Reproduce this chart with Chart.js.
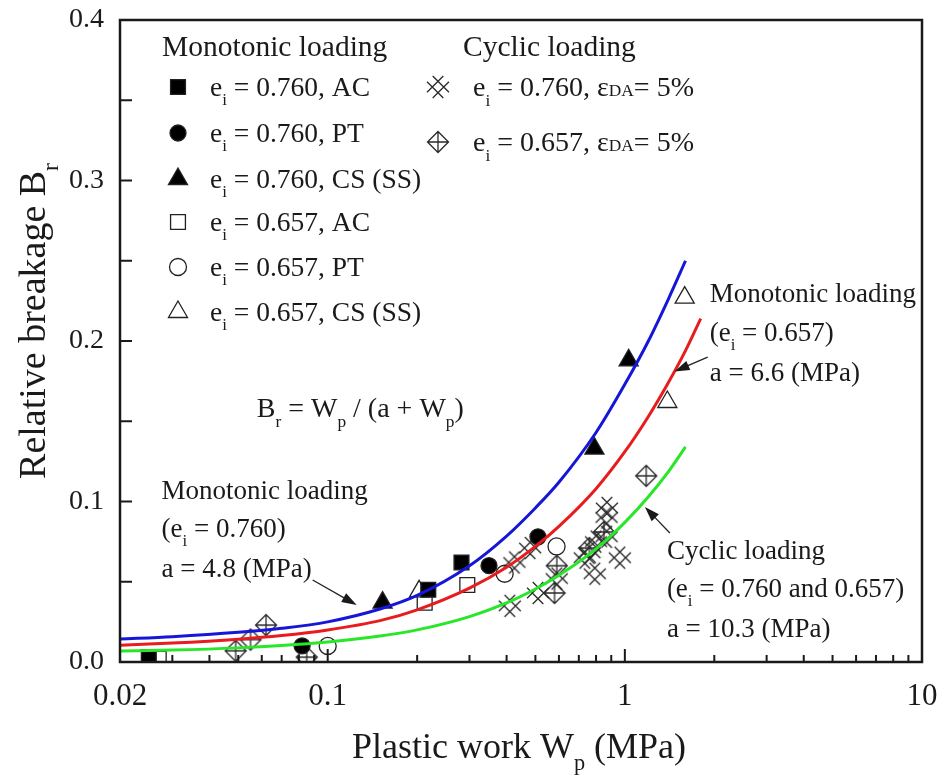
<!DOCTYPE html>
<html>
<head>
<meta charset="utf-8">
<title>Relative breakage vs plastic work</title>
<script src="https://cdn.jsdelivr.net/npm/chart.js@4.4.1/dist/chart.umd.min.js"></script>
<style>
  html, body { margin: 0; padding: 0; background: #fff; }
  canvas { display: block; }
</style>
</head>
<body>
<canvas id="breakageChart" width="943" height="777"></canvas>
<script>
// axis ticks
const X_MAJOR = [0.02, 0.1, 1, 10];
const X_MINOR = [0.03, 0.04, 0.05, 0.06, 0.07, 0.08, 0.09,
                 0.2, 0.3, 0.4, 0.5, 0.6, 0.7, 0.8, 0.9,
                 2, 3, 4, 5, 6, 7, 8, 9];
const Y_MAJOR = [0.1, 0.2, 0.3];
const Y_MINOR = [0.05, 0.15, 0.25, 0.35];

// monotonic loading, [Wp (MPa), Br]
const mono760AC = [[0.025, 0.003], [0.218, 0.045], [0.282, 0.062]];
const mono760PT = [[0.082, 0.010], [0.349, 0.060], [0.51, 0.078]];
const mono760CS = [[0.153, 0.037], [0.79, 0.133], [1.03, 0.188]];
const mono657AC = [[0.027, 0.002], [0.212, 0.037], [0.295, 0.048]];
const mono657PT = [[0.1, 0.010], [0.394, 0.055], [0.589, 0.072]];
const mono657CS = [[0.203, 0.044], [1.39, 0.162], [1.59, 0.227]];

// cyclic loading, eDA = 5%
const cyclic760 = [[0.41, 0.035], [0.425, 0.062], [0.48, 0.071], [0.51, 0.043],
                   [0.59, 0.052], [0.733, 0.065], [0.76, 0.068], [0.792, 0.055],
                   [0.80, 0.075], [0.868, 0.078], [0.868, 0.090], [0.87, 0.096],
                   [0.962, 0.065]];
const cyclic657 = [[0.049, 0.007], [0.055, 0.014], [0.062, 0.023], [0.085, 0.003],
                   [0.58, 0.043], [0.59, 0.060], [0.76, 0.071], [0.85, 0.081],
                   [1.18, 0.116]];

// fitted curves Br = Wp / (a + Wp)
const fitMono760 = [[0.02, 0.0143], [0.03, 0.0158], [0.05, 0.0185], [0.07, 0.0210],
                    [0.1, 0.0250], [0.15, 0.0330], [0.2, 0.0415], [0.3, 0.0600],
                    [0.4, 0.0785], [0.5, 0.0960], [0.6, 0.1120], [0.8, 0.1430],
                    [1.0, 0.1730], [1.2, 0.2000], [1.4, 0.2260], [1.6, 0.2500]];
const fitMono657 = [[0.02, 0.0105], [0.03, 0.0118], [0.05, 0.0142], [0.07, 0.0165],
                    [0.1, 0.0200], [0.15, 0.0258], [0.2, 0.0325], [0.3, 0.0460],
                    [0.4, 0.0590], [0.5, 0.0720], [0.6, 0.0845], [0.8, 0.1080],
                    [1.0, 0.1310], [1.2, 0.1530], [1.4, 0.1740], [1.6, 0.1940],
                    [1.8, 0.2140]];
const fitCyclic = [[0.02, 0.0068], [0.03, 0.0074], [0.05, 0.0088], [0.07, 0.0103],
                   [0.1, 0.0125], [0.15, 0.0162], [0.2, 0.0200], [0.3, 0.0283],
                   [0.4, 0.0368], [0.5, 0.0455], [0.6, 0.0540], [0.8, 0.0705],
                   [1.0, 0.0870], [1.2, 0.1030], [1.4, 0.1185], [1.6, 0.1340]];

const FONT = '"Liberation Serif", "Times New Roman", serif';
const INK = '#1a1a1a';

const toXY = arr => arr.map(p => ({ x: p[0], y: p[1] }));

// small canvases used as point styles for the cyclic markers
function markerCanvas(size, draw) {
  const c = document.createElement('canvas');
  c.width = c.height = size;
  const g = c.getContext('2d');
  g.strokeStyle = '#2a2a2a';
  g.lineWidth = 1.3;
  draw(g, size / 2);
  return c;
}

// rotated "#" lattice
const latticeMark = markerCanvas(26, (g, m) => {
  const L = 11.5, d = 4;
  const k = Math.SQRT1_2;
  g.beginPath();
  for (const s of [-d, d]) {
    g.moveTo(m - L * k + s * k, m - L * k - s * k);
    g.lineTo(m + L * k + s * k, m + L * k - s * k);
    g.moveTo(m - L * k + s * k, m + L * k + s * k);
    g.lineTo(m + L * k + s * k, m - L * k + s * k);
  }
  g.stroke();
});

// diamond with a plus inside
const diamondPlusMark = markerCanvas(24, (g, m) => {
  const r = 10.5;
  g.beginPath();
  g.moveTo(m, m - r); g.lineTo(m + r, m); g.lineTo(m, m + r); g.lineTo(m - r, m); g.closePath();
  g.moveTo(m, m - r); g.lineTo(m, m + r);
  g.moveTo(m - r, m); g.lineTo(m + r, m);
  g.stroke();
});

const series = [
  { data: mono760AC, pointStyle: 'rect', radius: 10.5, fill: true },
  { data: mono760PT, pointStyle: 'circle', radius: 8, fill: true },
  { data: mono760CS, pointStyle: 'triangle', radius: 11, fill: true },
  { data: mono657AC, pointStyle: 'rect', radius: 10.5, fill: false },
  { data: mono657PT, pointStyle: 'circle', radius: 8.5, fill: false },
  { data: mono657CS, pointStyle: 'triangle', radius: 11, fill: false },
  { data: cyclic760, pointStyle: latticeMark, radius: 11, fill: false },
  { data: cyclic657, pointStyle: diamondPlusMark, radius: 11, fill: false }
];

const curves = [
  { data: fitMono760, color: '#1616d8' },
  { data: fitMono657, color: '#e81c1c' },
  { data: fitCyclic, color: '#28e628' }
];

const datasets = [
  ...curves.map(c => ({
    type: 'line',
    data: toXY(c.data),
    borderColor: c.color,
    borderWidth: 3,
    pointRadius: 0,
    fill: false,
    cubicInterpolationMode: 'monotone',
    order: 0
  })),
  ...series.map(s => ({
    type: 'scatter',
    data: toXY(s.data),
    pointStyle: s.pointStyle,
    pointRadius: s.radius,
    borderColor: '#222',
    borderWidth: 1.3,
    backgroundColor: s.fill ? '#000' : 'rgba(0,0,0,0)',
    order: 1
  }))
];

// text with subscripts: parts are strings or [text, 'sub' | 'small']
function richText(ctx, parts, x, y, size, align) {
  const items = parts.map(p => {
    const txt = typeof p === 'string' ? p : p[0];
    const kind = typeof p === 'string' ? '' : p[1];
    const s = kind ? size * 0.62 : size;
    ctx.font = s + 'px ' + FONT;
    return { txt, kind, s, w: ctx.measureText(txt).width };
  });
  const total = items.reduce((a, it) => a + it.w, 0);
  let cx = align === 'center' ? x - total / 2 : x;
  ctx.textAlign = 'left';
  ctx.textBaseline = 'alphabetic';
  for (const it of items) {
    ctx.font = it.s + 'px ' + FONT;
    const dy = it.kind === 'sub' ? size * 0.34 : 0;
    ctx.fillText(it.txt, cx, y + dy);
    cx += it.w;
  }
}

function arrow(ctx, x1, y1, x2, y2) {
  const ang = Math.atan2(y2 - y1, x2 - x1);
  const head = 15, half = 5;
  ctx.beginPath();
  ctx.moveTo(x1, y1);
  ctx.lineTo(x2 - Math.cos(ang) * head * 0.8, y2 - Math.sin(ang) * head * 0.8);
  ctx.stroke();
  ctx.beginPath();
  ctx.moveTo(x2, y2);
  ctx.lineTo(x2 - Math.cos(ang) * head - Math.sin(ang) * half, y2 - Math.sin(ang) * head + Math.cos(ang) * half);
  ctx.lineTo(x2 - Math.cos(ang) * head + Math.sin(ang) * half, y2 - Math.sin(ang) * head - Math.cos(ang) * half);
  ctx.closePath();
  ctx.fill();
}

const ei = [['e', ''], ['i', 'sub']];

// legend rows
const monoLegend = [
  [series[0], ' = 0.760, AC'],
  [series[1], ' = 0.760, PT'],
  [series[2], ' = 0.760, CS (SS)'],
  [series[3], ' = 0.657, AC'],
  [series[4], ' = 0.657, PT'],
  [series[5], ' = 0.657, CS (SS)']
];
const cyclicLegend = [
  [series[6], ' = 0.760, '],
  [series[7], ' = 0.657, ']
];

// notes on the curves: text anchor and arrow in data units
const notes = [
  { x: 1.93, lines: [['Monotonic loading'], ['(e', ['i', 'sub'], ' = 0.657)'], ['a = 6.6 (MPa)']],
    ys: [0.230, 0.2056, 0.1807], arrow: [1.90, 0.190, 1.47, 0.181] },
  { x: 0.0276, lines: [['Monotonic loading'], ['(e', ['i', 'sub'], ' = 0.760)'], ['a = 4.8 (MPa)']],
    ys: [0.1072, 0.0835, 0.0586], arrow: [0.089, 0.0511, 0.1252, 0.0355] },
  { x: 1.385, lines: [['Cyclic loading'], ['(e', ['i', 'sub'], ' = 0.760 and 0.657)'], ['a = 10.3 (MPa)']],
    ys: [0.0698, 0.0461, 0.0212], arrow: [1.417, 0.0804, 1.168, 0.0966] }
];

const framePlugin = {
  id: 'frame',
  beforeDraw(chart) {
    const ctx = chart.ctx;
    ctx.save();
    ctx.fillStyle = '#fff';
    ctx.fillRect(0, 0, chart.width, chart.height);
    ctx.restore();
  },
  afterDraw(chart) {
    const ctx = chart.ctx;
    const { left, right, top, bottom } = chart.chartArea;
    const xs = chart.scales.x, ys = chart.scales.y;
    ctx.save();
    ctx.strokeStyle = INK;
    ctx.fillStyle = INK;

    // inward tick marks
    ctx.lineWidth = 2;
    ctx.beginPath();
    X_MAJOR.forEach(v => { const px = xs.getPixelForValue(v); ctx.moveTo(px, bottom); ctx.lineTo(px, bottom - 13); });
    X_MINOR.forEach(v => { const px = xs.getPixelForValue(v); ctx.moveTo(px, bottom); ctx.lineTo(px, bottom - 7); });
    Y_MAJOR.concat(Y_MINOR).forEach(v => { const py = ys.getPixelForValue(v); ctx.moveTo(left, py); ctx.lineTo(left + 12, py); });
    ctx.stroke();

    // plot frame
    ctx.lineWidth = 2.5;
    ctx.strokeRect(left, top, right - left, bottom - top);

    // legend: monotonic
    richText(ctx, ['Monotonic loading'], 162, 56, 29.5, 'left');
    const mRows = [87, 133, 179, 222, 267, 312];
    monoLegend.forEach((row, i) => {
      const s = row[0];
      ctx.fillStyle = s.fill ? '#000' : 'rgba(0,0,0,0)';
      ctx.strokeStyle = '#222';
      ctx.lineWidth = 1.3;
      Chart.helpers.drawPoint(ctx, { pointStyle: s.pointStyle, radius: s.radius, rotation: 0, borderWidth: 1.3 }, 178, mRows[i]);
      ctx.fillStyle = INK;
      richText(ctx, [...ei, row[1]], 210, mRows[i] + 9, 27.5, 'left');
    });

    // legend: cyclic
    richText(ctx, ['Cyclic loading'], 463, 56, 29.5, 'left');
    const cRows = [87, 142];
    cyclicLegend.forEach((row, i) => {
      const s = row[0];
      ctx.drawImage(s.pointStyle, 438 - s.pointStyle.width / 2, cRows[i] - s.pointStyle.height / 2);
      ctx.fillStyle = INK;
      richText(ctx, [...ei, row[1], '\u03b5', ['DA', 'small'], '= 5%'], 473, cRows[i] + 9, 28, 'left');
    });

    // model equation
    richText(ctx, ['B', ['r', 'sub'], ' = W', ['p', 'sub'], ' / (a + W', ['p', 'sub'], ')'],
      xs.getPixelForValue(0.0577), ys.getPixelForValue(0.158) + 9, 28, 'left');

    // curve notes with arrows
    ctx.lineWidth = 1.3;
    notes.forEach(n => {
      const px = xs.getPixelForValue(n.x);
      n.lines.forEach((ln, j) => richText(ctx, ln, px, ys.getPixelForValue(n.ys[j]) + 9, 27, 'left'));
      const a = n.arrow;
      arrow(ctx, xs.getPixelForValue(a[0]), ys.getPixelForValue(a[1]),
                 xs.getPixelForValue(a[2]), ys.getPixelForValue(a[3]));
    });

    // axis titles
    richText(ctx, ['Plastic work W', ['p', 'sub'], ' (MPa)'], 519, 758, 36, 'center');
    ctx.save();
    ctx.translate(45, 321);
    ctx.rotate(-Math.PI / 2);
    richText(ctx, ['Relative breakage B', ['r', 'sub']], 0, 0, 38, 'center');
    ctx.restore();

    ctx.restore();
  }
};

new Chart(document.getElementById('breakageChart'), {
  data: { datasets },
  options: {
    responsive: false,
    animation: false,
    events: [],
    layout: { padding: { top: 20, right: 21, left: 0, bottom: 0 } },
    plugins: { legend: { display: false }, tooltip: { enabled: false } },
    scales: {
      x: {
        type: 'logarithmic',
        min: 0.02,
        max: 10,
        grid: { display: false, drawTicks: false },
        border: { display: false },
        afterBuildTicks: scale => { scale.ticks = X_MAJOR.map(v => ({ value: v })); },
        afterFit: scale => {
          scale.height = 115;
          scale.paddingLeft = 0;
          scale.paddingRight = 0;
        },
        ticks: {
          autoSkip: false,
          maxRotation: 0,
          padding: 16,
          color: INK,
          font: { family: FONT, size: 31 },
          callback: v => String(v)
        }
      },
      y: {
        type: 'linear',
        min: 0,
        max: 0.4,
        grid: { display: false, drawTicks: false },
        border: { display: false },
        afterFit: scale => {
          scale.width = 120;
          scale.paddingTop = 0;
          scale.paddingBottom = 0;
        },
        ticks: {
          stepSize: 0.1,
          padding: 16,
          color: INK,
          font: { family: FONT, size: 28 },
          callback: v => v.toFixed(1)
        }
      }
    }
  },
  plugins: [framePlugin]
});
</script>
</body>
</html>
